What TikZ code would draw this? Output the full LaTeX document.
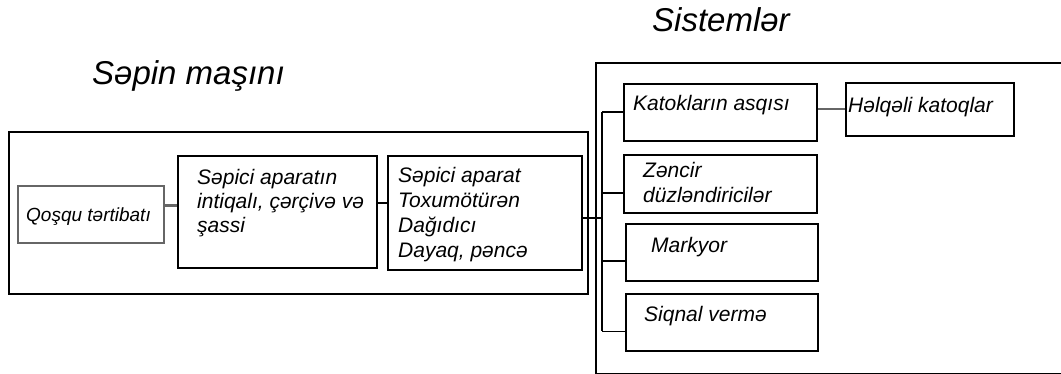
\documentclass[tikz,border=0pt]{standalone}
\usepackage{fontspec}
\setmainfont{Liberation Sans}
\begin{document}
\begin{tikzpicture}[x=1pt,y=-1pt]
    \tikzstyle{box}=[draw,line width=1.7pt,inner sep=0pt,anchor=north west]
    \tikzstyle{txt}=[inner sep=0pt,anchor=base west,align=left,font=\itshape\fontsize{21}{25}\selectfont]
    \tikzstyle{title}=[inner sep=0pt,anchor=base west,font=\itshape\fontsize{33}{38}\selectfont]
    \tikzstyle{link}=[line width=1.7pt]
    \tikzstyle{soft}=[line width=2.2pt,draw=black!60]
    \useasboundingbox (0,0) rectangle (1061,374);
    \clip (0,0) rectangle (1061,374);
    % machine
    \node[title] (machine-t) at (92,85) {Səpin maşını};
    \node[box,minimum width=579pt,minimum height=162pt] (machine) at (8,131) {};
    \node[box,soft,minimum width=146pt,minimum height=57pt] (hitch) at (17,185) {};
      \node[txt,font=\itshape\fontsize{19}{23}\selectfont] (hitch-t) at (26,222) {Qoşqu tərtibatı};
    \node[box,minimum width=199pt,minimum height=112pt] (drive) at (177,155) {};
      \node[txt,font=\itshape\fontsize{21}{24}\selectfont] (drive-t) at (197,233) {Səpici aparatın\\intiqalı, çərçivə və\\şassi};
    \node[box,minimum width=194pt,minimum height=114pt] (sow) at (387,155) {};
      \node[txt] (sow-t) at (398,258) {Səpici aparat\\Toxumötürən\\Dağıdıcı\\Dayaq, pəncə};
    % systems
    \node[title] (systems-t) at (652,32) {Sistemlər};
    \node[box,minimum width=470pt,minimum height=311pt] (systems) at (595,62) {};
    \node[box,minimum width=193pt,minimum height=57pt] (katok) at (623,83) {};
      \node[txt] (katok-t) at (633,111) {Katokların asqısı};
    \node[box,minimum width=193pt,minimum height=58pt] (zencir) at (623,154) {};
      \node[txt] (zencir-t) at (643,203) {Zəncir\\düzləndiricilər};
    \node[box,minimum width=192pt,minimum height=57pt] (marker) at (625,223) {};
      \node[txt] (marker-t) at (651,253) {Markyor};
    \node[box,minimum width=192pt,minimum height=57pt] (signal) at (625,293) {};
      \node[txt] (signal-t) at (644,321) {Siqnal vermə};
    \node[box,minimum width=168pt,minimum height=53pt] (ring) at (845,82) {};
      \node[txt] (ring-t) at (848,113) {Həlqəli katoqlar};
    % connectors
    \draw[soft] ([yshift=9pt]hitch.east) -- ([yshift=9pt]hitch.east -| drive.west);
    \draw[link] ([yshift=9pt]drive.east) -- ([yshift=9pt]drive.east -| sow.west);
    \coordinate (bus) at (602,218);
    \draw[link] (bus -| sow.east) -- (bus);
    \draw[link] (bus |- katok.west) -- ([yshift=-9pt]bus |- signal.west);
    \draw[link] (bus |- katok.west) -- (katok.west);
    \draw[link] ([yshift=-9pt]bus |- zencir.west) -- ([yshift=-9pt]zencir.west);
    \draw[link] ([yshift=-9pt]bus |- marker.west) -- ([yshift=-9pt]marker.west);
    \draw[link] ([yshift=-9pt]bus |- signal.west) -- ([yshift=-9pt]signal.west);
    \draw[soft] (ring.west) -- (ring.west -| katok.east);
\end{tikzpicture}
\end{document}
